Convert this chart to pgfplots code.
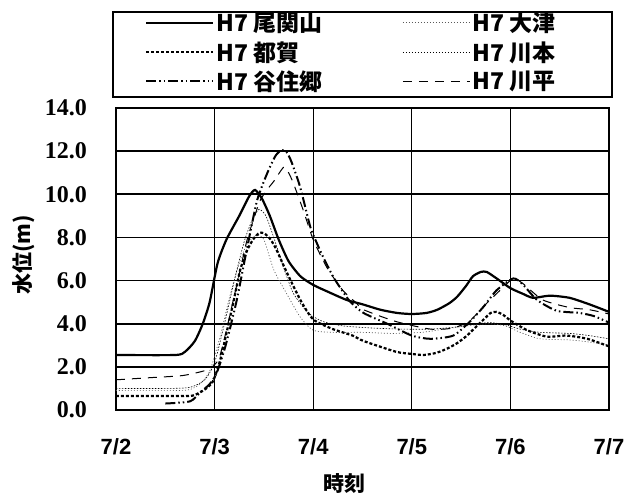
\documentclass[border=0pt]{standalone}
\usepackage{pgfplots}
\pgfplotsset{compat=1.18}
\usepackage{fontspec}
\setmainfont{Liberation Serif}
\newfontfamily\cjk{Noto Sans CJK JP}
\newfontfamily\tickx{Liberation Sans}
\begin{document}
\begin{tikzpicture}
\path[use as bounding box] (-116bp,-83bp) rectangle (511bp,410bp);
\begin{axis}[
  at={(0,0)}, anchor=south west,
  scale only axis, width=493bp, height=302bp,
  xmin=0, xmax=5, ymin=0, ymax=14,
  xtick={0,1,2,3,4,5},
  xticklabels={7/2,7/3,7/4,7/5,7/6,7/7},
  ytick={0,2,4,6,8,10,12,14},
  major tick length=0pt,
  axis line style={line width=1.6bp},
  grid=major,
  x grid style={line width=1.1bp, black},
  y grid style={line width=1.8bp, black},
  /pgf/number format/assume math mode=true,
  yticklabel={\pgfmathprintnumber[fixed,fixed zerofill,precision=1]{\tick}},
  yticklabel style={anchor=east, inner sep=0pt, xshift=-29bp, font=\bfseries\fontsize{24bp}{27bp}\selectfont},
  xticklabel style={anchor=north, inner sep=0pt, yshift=-28bp, font=\tickx\bfseries\fontsize{22bp}{25bp}\selectfont},
  xlabel={時刻},
  ylabel={水位(m)},
  every axis x label/.style={at={(axis description cs:0.5,0)}, anchor=center, yshift=-74bp, xshift=-18bp, font=\cjk\bfseries\fontsize{21bp}{24bp}\selectfont},
  every axis y label/.style={at={(axis description cs:0,0.5)}, rotate=90, anchor=center, yshift=92bp, xshift=4bp, font=\cjk\bfseries\fontsize{21bp}{24bp}\selectfont},
  legend columns=2,
  legend cell align=left,
  legend image code/.code={\draw[#1] (0bp,0bp) -- (67bp,0bp);},
  legend style={at={(axis description cs:0,1)}, anchor=south west, xshift=-3bp, yshift=11bp, draw=none, fill=none,
    inner xsep=32bp, inner ysep=2bp, row sep=2bp,
    font=\cjk\bfseries\fontsize{23bp}{26bp}\selectfont,
    nodes={inner xsep=2bp, inner ysep=3bp},
    /tikz/every even column/.append style={column sep=0bp}},
]
% 尾関山
\addplot[black, line width=2.2bp, smooth, tension=0.4] coordinates {
(0,2.55) (0.6,2.55) (0.7,2.7) (0.8,3.2) (0.88,4.0) (0.95,5.0) (1.03,6.8) (1.12,7.9)
(1.25,9.0) (1.35,9.9) (1.41,10.2) (1.48,9.8) (1.56,9.0) (1.65,7.9) (1.75,6.9) (1.87,6.2)
(2.0,5.8) (2.14,5.5) (2.34,5.1) (2.5,4.9) (2.68,4.65) (2.85,4.5) (3.0,4.45) (3.15,4.5)
(3.26,4.65) (3.38,4.95) (3.46,5.25) (3.55,5.75) (3.62,6.2) (3.7,6.4) (3.76,6.4) (3.86,6.1)
(4.0,5.65) (4.12,5.4) (4.23,5.2) (4.4,5.3) (4.6,5.2) (4.8,4.9) (5.0,4.55)};
\addlegendentry{\makebox[184bp][l]{H7 尾関山}}
% 大津
\addplot[black!65, line width=0.7bp, dash pattern=on 1bp off 2bp, smooth, tension=0.4] coordinates {
(0,0.9) (0.6,0.9) (0.75,0.95) (0.85,1.2) (0.95,1.8) (1.05,3.3) (1.15,5.2) (1.25,6.8)
(1.33,7.7) (1.42,8.1) (1.5,7.9) (1.6,6.5) (1.73,5.4) (1.87,4.3) (2.0,3.7) (2.2,3.6)
(2.5,3.6) (2.8,3.55) (3.1,3.6) (3.4,3.8) (3.65,3.95) (3.8,4.0) (3.95,3.9) (4.1,3.6)
(4.3,3.3) (4.6,3.25) (4.8,3.15) (5.0,3.0)};
\addlegendentry{\makebox[80bp][l]{H7 大津}}
% 都賀
\addplot[black, line width=2.2bp, dash pattern=on 3bp off 2bp, smooth, tension=0.4] coordinates {
(0,0.65) (0.7,0.65) (0.8,0.7) (0.9,0.95) (0.98,1.3) (1.05,2.2) (1.12,3.55) (1.2,5.2)
(1.26,6.5) (1.33,7.4) (1.39,7.9) (1.45,8.2) (1.5,8.2) (1.56,7.95) (1.62,7.5) (1.73,6.4)
(1.87,5.1) (2.0,4.2) (2.2,3.75) (2.4,3.45) (2.51,3.2) (2.84,2.7) (3.0,2.6) (3.12,2.55)
(3.25,2.65) (3.36,2.85) (3.46,3.1) (3.56,3.45) (3.65,3.85) (3.73,4.2) (3.8,4.5) (3.86,4.55)
(3.93,4.4) (4.0,4.15) (4.17,3.7) (4.37,3.4) (4.57,3.45) (4.78,3.3) (5.0,2.95)};
\addlegendentry{\makebox[184bp][l]{H7 都賀}}
% 川本
\addplot[black, line width=0.6bp, dash pattern=on 1.5bp off 1.5bp, smooth, tension=0.4] coordinates {
(0,1.0) (0.5,1.0) (0.75,1.05) (0.9,1.4) (1.0,2.2) (1.1,4.0) (1.2,6.0) (1.3,7.8)
(1.38,8.8) (1.45,9.3) (1.52,9.0) (1.6,8.0) (1.7,6.6) (1.8,5.4) (1.95,4.5) (2.1,4.1)
(2.3,3.9) (2.6,3.8) (2.9,3.75) (3.2,3.75) (3.45,3.85) (3.65,4.0) (3.8,4.05) (3.95,3.95)
(4.1,3.75) (4.3,3.6) (4.6,3.55) (4.8,3.45) (5.0,3.3)};
\addlegendentry{\makebox[80bp][l]{H7 川本}}
% 谷住郷
\addplot[black, line width=2bp, dash pattern=on 10bp off 3bp on 1.5bp off 3bp on 1.5bp off 3bp, smooth, tension=0.4] coordinates {
(0.5,0.3) (0.75,0.4) (0.85,0.8) (0.95,1.2) (1.02,1.7) (1.1,2.8) (1.16,3.85) (1.23,5.2)
(1.29,6.6) (1.36,8.2) (1.43,9.7) (1.5,10.6) (1.56,11.25) (1.62,11.8) (1.68,12.05) (1.73,11.95)
(1.78,11.5) (1.87,10.3) (1.97,8.5) (2.05,7.6) (2.1,7.1) (2.2,6.2) (2.27,5.7) (2.37,5.05)
(2.51,4.5) (2.75,4.0) (3.0,3.45) (3.19,3.3) (3.42,3.45) (3.59,4.1) (3.73,4.8) (3.86,5.55)
(4.03,6.1) (4.13,5.8) (4.27,5.1) (4.47,4.6) (4.7,4.5) (4.85,4.35) (5.0,4.05)};
\addlegendentry{\makebox[184bp][l]{H7 谷住郷}}
% 川平
\addplot[black, line width=1bp, dash pattern=on 9bp off 7bp, smooth, tension=0.4] coordinates {
(0,1.4) (0.35,1.5) (0.68,1.6) (0.92,1.85) (1.0,2.1) (1.05,2.45) (1.12,3.7) (1.19,5.1)
(1.26,6.5) (1.33,7.9) (1.4,8.9) (1.46,9.7) (1.53,10.2) (1.6,10.6) (1.7,11.25) (1.75,11.0)
(1.8,10.5) (1.9,9.25) (2.0,7.9) (2.14,6.6) (2.3,5.55) (2.44,4.95) (2.51,4.65) (2.84,4.1)
(3.19,3.75) (3.42,3.8) (3.59,4.15) (3.76,4.95) (3.93,5.7) (4.03,6.1) (4.13,5.85) (4.33,5.1)
(4.6,4.75) (4.8,4.65) (5.0,4.45)};
\addlegendentry{\makebox[80bp][l]{H7 川平}}
\end{axis}
\draw[line width=1.5bp] (-3bp,313bp) rectangle (496bp,398bp);
\end{tikzpicture}
\end{document}
